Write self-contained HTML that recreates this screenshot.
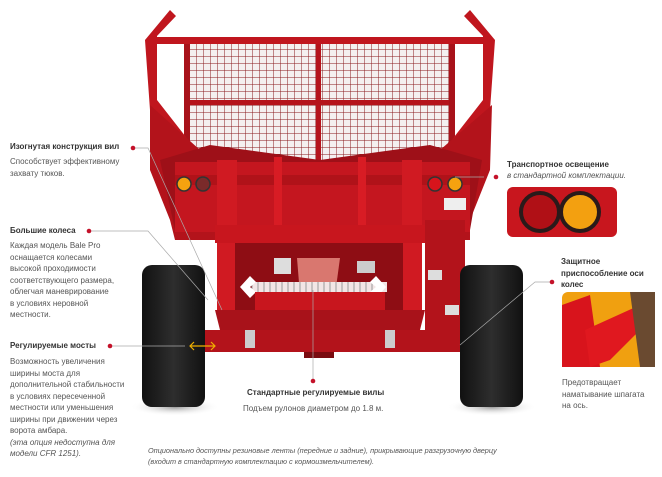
<!DOCTYPE html>
<html><head><meta charset="utf-8"><style>
body{margin:0;background:#fff;width:662px;height:477px;overflow:hidden;position:relative;font-family:"Liberation Sans",sans-serif;}
.t{position:absolute;font-size:8px;color:#555;line-height:11.5px;}
.h{position:absolute;font-size:8px;font-weight:bold;color:#333;}
svg{position:absolute;left:0;top:0;}
</style></head><body>
<svg width="662" height="477" viewBox="0 0 662 477">
<defs>
<pattern id="mesh" width="7" height="7" patternUnits="userSpaceOnUse"><rect width="7" height="7" fill="#f4f0f0"/><path d="M0 0H7M0 0V7" stroke="#8a1a1e" stroke-width="1"/></pattern>
<linearGradient id="tire" x1="0" x2="1"><stop offset="0" stop-color="#111"/><stop offset=".5" stop-color="#2e2e2e"/><stop offset="1" stop-color="#111"/></linearGradient>
<radialGradient id="sh"><stop offset="0" stop-color="#555" stop-opacity=".6"/><stop offset="1" stop-color="#fff" stop-opacity="0"/></radialGradient>
</defs>
<!-- shadows -->
<ellipse cx="175" cy="407" rx="45" ry="9" fill="url(#sh)"/>
<ellipse cx="492" cy="407" rx="45" ry="9" fill="url(#sh)"/>
<!-- mesh -->
<rect x="188" y="43" width="262" height="122" fill="url(#mesh)"/>
<rect x="316" y="43" width="5" height="120" fill="#b5141c"/>
<rect x="188" y="100" width="262" height="5" fill="#b5141c"/>
<rect x="184" y="42" width="6" height="120" fill="#a8121a"/>
<rect x="449" y="42" width="6" height="120" fill="#a8121a"/>
<rect x="150" y="37" width="340" height="7" fill="#c0161e"/>
<!-- uprights -->
<path d="M170 10 L176 16 L157 36 L157 100 L200 155 L190 168 L150 110 L145 40 Z" fill="#c0161e"/>
<path d="M470 10 L464 16 L483 36 L483 100 L440 155 L450 168 L490 110 L495 40 Z" fill="#c0161e"/>
<!-- bowl -->
<path d="M150 105 L200 150 L320 165 L440 150 L492 105 L490 170 L470 220 L470 240 L175 240 L170 220 L150 170 Z" fill="#b3131b"/>
<path d="M160 160 L210 145 L320 160 L430 145 L482 160 L470 230 L175 230 Z" fill="#9e1018"/>
<!-- body panel -->
<rect x="175" y="162" width="295" height="70" fill="#c4161f"/>
<rect x="175" y="175" width="295" height="10" fill="#b01219"/>
<rect x="217" y="160" width="20" height="150" fill="#d01a22"/>
<rect x="402" y="160" width="20" height="150" fill="#d01a22"/>
<rect x="274" y="157" width="8" height="70" fill="#d81c24"/>
<rect x="358" y="157" width="8" height="70" fill="#d81c24"/>
<rect x="215" y="225" width="210" height="18" fill="#c8161e"/>
<rect x="235" y="243" width="168" height="67" fill="#8e0d14"/>
<path d="M297 258 L340 258 L335 295 L300 295 Z" fill="#d9776f"/>
<rect x="274" y="258" width="17" height="16" fill="#ddd"/>
<rect x="357" y="261" width="18" height="12" fill="#ccc"/>
<rect x="425" y="220" width="40" height="110" fill="#b3131b"/>
<rect x="428" y="270" width="14" height="10" fill="#ddd"/>
<rect x="445" y="305" width="14" height="10" fill="#ddd"/>
<rect x="444" y="198" width="22" height="12" fill="#eee"/>
<!-- forks -->
<rect x="252" y="282" width="135" height="10" fill="#f2e6e6"/>
<path d="M252 282 V292 M258 282 V292 M264 282 V292 M270 282 V292 M276 282 V292 M282 282 V292 M288 282 V292 M294 282 V292 M300 282 V292 M306 282 V292 M312 282 V292 M318 282 V292 M324 282 V292 M330 282 V292 M336 282 V292 M342 282 V292 M348 282 V292 M354 282 V292 M360 282 V292 M366 282 V292 M372 282 V292 M378 282 V292" stroke="#999" stroke-width="1"/>
<path d="M240 287 L250 276 L256 282 L250 287 L256 292 L250 298 Z" fill="#fff"/>
<path d="M386 287 L376 276 L370 282 L376 287 L370 292 L376 298 Z" fill="#fff"/>
<rect x="255" y="292" width="130" height="20" fill="#c8161e"/>
<rect x="255" y="310" width="128" height="3" fill="#ccc"/>
<path d="M215 310 L425 310 L420 330 L220 330 Z" fill="#a8121a"/>
<!-- bottom bar -->
<rect x="205" y="330" width="258" height="22" fill="#b3131b"/>
<rect x="245" y="330" width="10" height="18" fill="#ccc"/>
<rect x="385" y="330" width="10" height="18" fill="#ccc"/>
<rect x="304" y="352" width="30" height="6" fill="#7a0b10"/>
<!-- lights -->
<circle cx="184" cy="184" r="7" fill="#f5a20f" stroke="#333" stroke-width="1.5"/>
<circle cx="203" cy="184" r="7" fill="#7a2a2a" stroke="#333" stroke-width="1.5"/>
<circle cx="435" cy="184" r="7" fill="#d7141c" stroke="#333" stroke-width="1.5"/>
<circle cx="455" cy="184" r="7" fill="#f5a20f" stroke="#333" stroke-width="1.5"/>
<!-- tires -->
<rect x="142" y="265" width="63" height="142" rx="10" fill="url(#tire)"/>
<rect x="460" y="265" width="63" height="142" rx="10" fill="url(#tire)"/>
<!-- leader lines -->
<g stroke="#aaa" stroke-width=".7" fill="none">
<path d="M133 148 L148 148 L222 310"/>
<path d="M89 231 L148 231 L208 300"/>
<path d="M110 346 L185 346"/>
<path d="M313 381 L313 290"/>
<path d="M484 177 L455 177"/>
<path d="M552 282 L535 282 L460 345"/>
</g>
<path d="M190 346 L215 346 M194 342 L190 346 L194 350 M211 342 L215 346 L211 350" stroke="#f0b000" stroke-width="1.2" fill="none"/>
<g fill="#c4122a"><circle cx="133" cy="148" r="2.3"/><circle cx="89" cy="231" r="2.3"/><circle cx="110" cy="346" r="2.3"/><circle cx="313" cy="381" r="2.3"/><circle cx="496" cy="177" r="2.3"/><circle cx="552" cy="282" r="2.3"/></g>
<!-- insets -->
<rect x="507" y="187" width="110" height="50" rx="6" fill="#c8161e"/>
<circle cx="540" cy="212" r="19" fill="#b01016" stroke="#2a1a1a" stroke-width="4"/>
<circle cx="580" cy="212" r="19" fill="#f3a010" stroke="#2a1a1a" stroke-width="4"/>
<rect x="562" y="292" width="93" height="75" rx="6" fill="#f0a010"/>
<path d="M562 305 L590 295 L600 367 L562 367 Z" fill="#d8141c"/>
<path d="M585 330 L640 305 L650 320 L610 360 L590 367 Z" fill="#e0181f"/>
<path d="M630 292 L655 292 L655 367 L640 367 Z" fill="#6a4a30"/>
</svg>
<div class="h" style="left:10px;top:142px">Изогнутая конструкция вил</div>
<div class="t" style="left:10px;top:156px">Способствует эффективному<br>захвату тюков.</div>
<div class="h" style="left:10px;top:226px">Большие колеса</div>
<div class="t" style="left:10px;top:240px">Каждая модель Bale Pro<br>оснащается колесами<br>высокой проходимости<br>соответствующего размера,<br>облегчая маневрирование<br>в условиях неровной<br>местности.</div>
<div class="h" style="left:10px;top:341px">Регулируемые мосты</div>
<div class="t" style="left:10px;top:356px">Возможность увеличения<br>ширины моста для<br>дополнительной стабильности<br>в условиях пересеченной<br>местности или уменьшения<br>ширины при движении через<br>ворота амбара.<br><i>(эта опция недоступна для<br>модели CFR 1251).</i></div>
<div class="h" style="left:247px;top:388px">Стандартные регулируемые вилы</div>
<div class="t" style="left:243px;top:403px">Подъем рулонов диаметром до 1.8 м.</div>
<div class="t" style="left:148px;top:445px;font-style:italic;font-size:7.3px;line-height:11px">Опционально доступны резиновые ленты (передние и задние), прикрывающие разгрузочную дверцу<br>(входит в стандартную комплектацию с кормоизмельчителем).</div>
<div class="h" style="left:507px;top:160px">Транспортное освещение</div>
<div class="t" style="left:507px;top:170px;font-style:italic">в стандартной комплектации.</div>
<div class="h" style="left:561px;top:256px;line-height:11.5px">Защитное<br>приспособление оси<br>колес</div>
<div class="t" style="left:562px;top:377px">Предотвращает<br>наматывание шпагата<br>на ось.</div>
</body></html>
